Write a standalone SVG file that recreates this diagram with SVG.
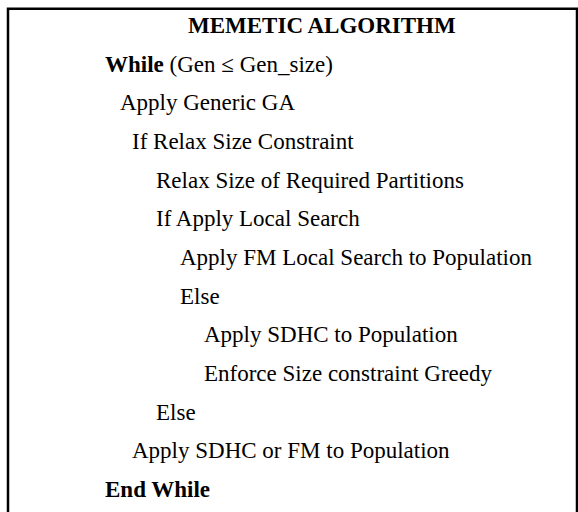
<svg xmlns="http://www.w3.org/2000/svg" width="578" height="512" viewBox="0 0 578 512">
<style>
.t{font-family:"Liberation Serif","Times New Roman",serif;font-size:23px;fill:#000}
.b{font-weight:bold}
</style>
<rect width="578" height="512" fill="#fff"/>
<g id="frame">
<path d="M8,512 V8.7 H577 V512" fill="none" stroke="#000" stroke-width="2.5"/>
</g>
<g id="connectors"></g>
<g id="title"><text class="t b" x="188" y="33">MEMETIC ALGORITHM</text></g>
<g id="line1"><text class="t" x="105" y="71.7"><tspan class="b">While</tspan> (Gen ≤ Gen_size)</text></g>
<g id="line2"><text class="t" x="120" y="110.3">Apply Generic GA</text></g>
<g id="line3"><text class="t" x="132" y="149">If Relax Size Constraint</text></g>
<g id="line4"><text class="t" x="156" y="187.7">Relax Size of Required Partitions</text></g>
<g id="line5"><text class="t" x="156" y="226.3">If Apply Local Search</text></g>
<g id="line6"><text class="t" x="180" y="265">Apply FM Local Search to Population</text></g>
<g id="line7"><text class="t" x="180" y="303.7">Else</text></g>
<g id="line8"><text class="t" x="204" y="342.3">Apply SDHC to Population</text></g>
<g id="line9"><text class="t" x="204" y="381">Enforce Size constraint Greedy</text></g>
<g id="line10"><text class="t" x="156" y="419.7">Else</text></g>
<g id="line11"><text class="t" x="132" y="458.3">Apply SDHC or FM to Population</text></g>
<g id="line12"><text class="t b" x="105" y="497">End While</text></g>
</svg>
